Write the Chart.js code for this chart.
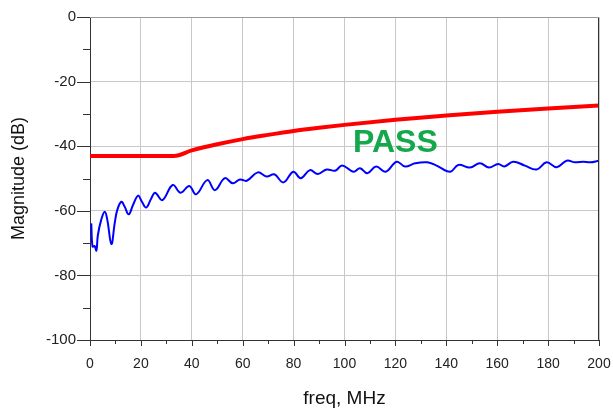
<!DOCTYPE html>
<html>
<head>
<meta charset="utf-8">
<script src="https://cdn.jsdelivr.net/npm/chart.js@4"></script>
<style>
  html, body { margin: 0; padding: 0; background: #fff; }
  #wrap { width: 613px; height: 410px; }
</style>
</head>
<body>
<div id="wrap"><canvas id="magChart" width="613" height="410"></canvas></div>
<script>
// measured response (blue)
let measFreq = [0.5, 1.0, 1.8, 2.5, 3.1, 4.4, 5.8, 6.8, 8.4, 9.7, 10.7, 12.3, 13.6, 15.2, 16.9, 18.9,
    20.4, 22.1, 24.1, 25.6, 28.4, 32.5, 35.6, 39.0, 41.7, 46.1, 49.1, 53.0, 56.1, 58.9, 61.6, 65.9,
    69.4, 72.4, 76.0, 79.9, 82.8, 86.4, 89.5, 93.0, 96.3, 99.1, 103.5, 106.1, 109.0, 112.4, 116.2,
    120.5, 123.8, 127.7, 132.5, 136.2, 141.5, 144.7, 149.3, 153.2, 156.8, 160.4, 162.8, 166.3,
    170.9, 175.5, 179.4, 183.4, 187.3, 190.6, 193.8, 196.5, 200];
let measMag = [-63.9, -71.1, -70.9, -72.3, -67.5, -62.8, -60.3, -62.8, -70.3, -63.9, -59.8, -57.2, -58.7, -61.1, -58.2, -55.3,
    -57.2, -59.0, -56.1, -54.4, -56.7, -52.0, -54.4, -52.3, -54.9, -50.5, -53.6, -49.9, -51.5, -50.3, -50.7, -48.1,
    -49.4, -48.7, -51.2, -47.9, -49.9, -47.4, -48.6, -47.2, -47.6, -46.0, -47.9, -46.8, -48.4, -46.3, -47.9,
    -44.8, -46.3, -45.3, -45.0, -46.0, -47.9, -45.8, -46.6, -45.3, -46.6, -45.5, -46.3, -44.8,
    -46.0, -47.2, -45.0, -46.5, -44.5, -45.0, -44.8, -45.0, -44.5];

// limit mask (red)
let limitFreq = [0, 33, 40, 50, 60, 70, 80, 90, 100, 120, 140, 160, 180, 200];
let limitMag = [-43, -43, -41.3, -39.4, -37.8, -36.5, -35.3, -34.3, -33.4, -31.8, -30.5, -29.3, -28.3, -27.4];

let xTicks = [0, 20, 40, 60, 80, 100, 120, 140, 160, 180, 200];
let xMinor = [10, 30, 50, 70, 90, 110, 130, 150, 170, 190];
let yTicks = [0, -20, -40, -60, -80, -100];
let yMinor = [-10, -30, -50, -70, -90];

let passLabel = { text: "PASS", x: 120, y: -39.2 };

function toPoints(xs, ys) {
    return xs.map((x, i) => ({ x: x, y: ys[i] }));
}

const extras = {
    id: "extras",
    afterDraw(chart) {
        let ctx = chart.ctx;
        let area = chart.chartArea;
        let xs = chart.scales.x;
        let ys = chart.scales.y;
        ctx.save();
        ctx.strokeStyle = "#333";
        ctx.lineWidth = 1;
        ctx.beginPath();
        xTicks.forEach(v => {
            let px = Math.round(xs.getPixelForValue(v)) + 0.5;
            ctx.moveTo(px, area.bottom); ctx.lineTo(px, area.bottom + 6);
        });
        xMinor.forEach(v => {
            let px = Math.round(xs.getPixelForValue(v)) + 0.5;
            ctx.moveTo(px, area.bottom); ctx.lineTo(px, area.bottom + 4);
        });
        yTicks.forEach(v => {
            let py = Math.round(ys.getPixelForValue(v)) + 0.5;
            ctx.moveTo(area.left - 13, py); ctx.lineTo(area.left, py);
        });
        yMinor.forEach(v => {
            let py = Math.round(ys.getPixelForValue(v)) + 0.5;
            ctx.moveTo(area.left - 7, py); ctx.lineTo(area.left, py);
        });
        // right edge
        let rx = Math.round(area.right) - 0.5;
        ctx.moveTo(rx, area.top); ctx.lineTo(rx, area.bottom);
        ctx.stroke();

        // top edge
        ctx.strokeStyle = "#999";
        ctx.beginPath();
        ctx.moveTo(area.left, Math.round(area.top) + 0.5);
        ctx.lineTo(area.right, Math.round(area.top) + 0.5);
        ctx.stroke();

        ctx.fillStyle = "#13a84b";
        ctx.font = "bold 32px 'Liberation Sans', Arial, sans-serif";
        ctx.textAlign = "center";
        ctx.textBaseline = "middle";
        ctx.fillText(passLabel.text, xs.getPixelForValue(passLabel.x), ys.getPixelForValue(passLabel.y));
        ctx.restore();
    }
};

let ctx = document.getElementById("magChart").getContext("2d");
let chart = new Chart(ctx, {
    type: "line",
    data: {
        datasets: [{
            label: "limit",
            data: toPoints(limitFreq, limitMag),
            borderColor: "#ff0000",
            borderWidth: 4,
            pointRadius: 0,
            cubicInterpolationMode: "monotone",
            fill: false
        }, {
            label: "measured",
            data: toPoints(measFreq, measMag),
            borderColor: "#0000ff",
            borderWidth: 2,
            pointRadius: 0,
            tension: 0.4,
            fill: false
        }]
    },
    options: {
        responsive: false,
        animation: false,
        layout: { padding: 0 },
        plugins: {
            legend: { display: false },
            tooltip: { enabled: false }
        },
        scales: {
            x: {
                type: "linear",
                min: 0,
                max: 200,
                afterBuildTicks: s => { s.ticks = xTicks.map(v => ({ value: v })); },
                afterFit: s => {
                    s.height = 70;
                    s.paddingLeft = 0;
                    s.paddingRight = 14;
                },
                grid: { color: "#c8c8c8", drawTicks: false },
                border: { color: "#333", width: 1 },
                ticks: {
                    padding: 16,
                    color: "#222",
                    maxRotation: 0,
                    font: { family: "'Liberation Sans', Arial, sans-serif", size: 14 }
                },
                title: {
                    display: true,
                    text: "freq, MHz",
                    color: "#111",
                    padding: { top: 0, bottom: 0 },
                    font: { family: "'Liberation Sans', Arial, sans-serif", size: 19 }
                }
            },
            y: {
                type: "linear",
                min: -100,
                max: 0,
                afterBuildTicks: s => { s.ticks = yTicks.map(v => ({ value: v })); },
                afterFit: s => {
                    s.width = 90;
                    s.paddingTop = 17;
                    s.paddingBottom = 0;
                },
                grid: { color: "#c8c8c8", drawTicks: false },
                border: { color: "#333", width: 1 },
                ticks: {
                    padding: 14,
                    color: "#222",
                    font: { family: "'Liberation Sans', Arial, sans-serif", size: 15 }
                },
                title: {
                    display: true,
                    text: "Magnitude (dB)",
                    color: "#111",
                    padding: { top: 8, bottom: 0 },
                    font: { family: "'Liberation Sans', Arial, sans-serif", size: 18 }
                }
            }
        }
    },
    plugins: [extras]
});
</script>
</body>
</html>
